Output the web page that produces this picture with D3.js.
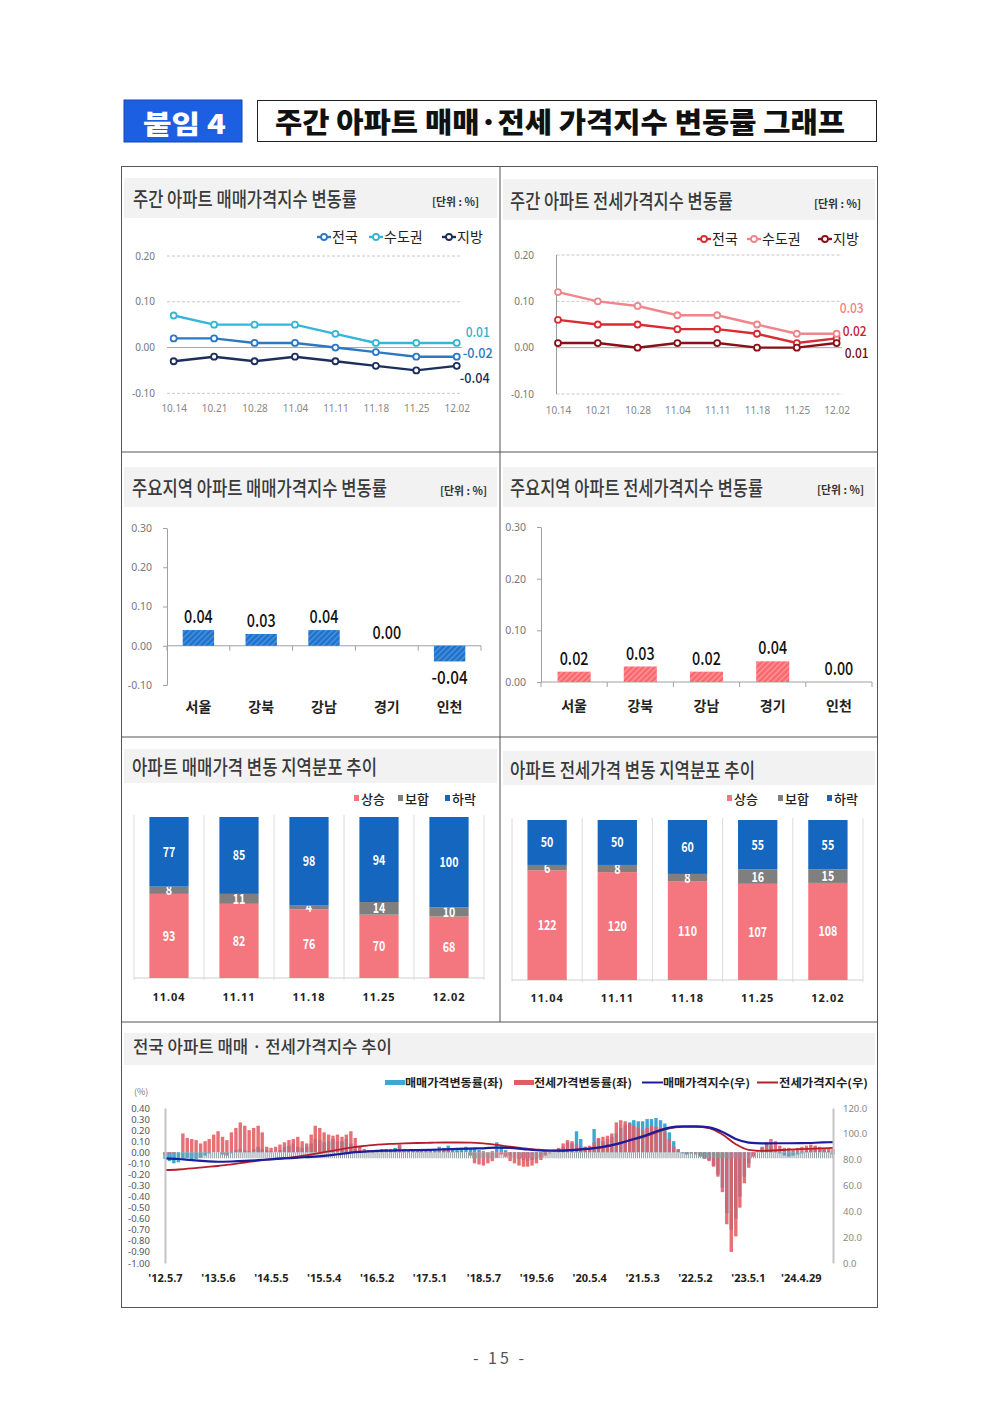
<html>
<script src="https://d3js.org/d3.v7.min.js"></script>
<style>
  body { margin: 0; background: #fff; }
</style>
<body>
<svg id="page" width="1000" height="1413"></svg>
<script>
// ---- weekly line charts ----
const weeks = ["10.14", "10.21", "10.28", "11.04", "11.11", "11.18", "11.25", "12.02"];
const saleNation = [0.02, 0.02, 0.01, 0.01, 0.00, -0.01, -0.02, -0.02];
const saleCapital = [0.07, 0.05, 0.05, 0.05, 0.03, 0.01, 0.01, 0.01];
const saleLocal = [-0.03, -0.02, -0.03, -0.02, -0.03, -0.04, -0.05, -0.04];
const rentNation = [0.06, 0.05, 0.05, 0.04, 0.04, 0.03, 0.01, 0.02];
const rentCapital = [0.12, 0.10, 0.09, 0.07, 0.07, 0.05, 0.03, 0.03];
const rentLocal = [0.01, 0.01, 0.00, 0.01, 0.01, 0.00, 0.00, 0.01];

// ---- main regions ----
const regions = ["서울", "강북", "강남", "경기", "인천"];
const regionSale = [0.04, 0.03, 0.04, 0.00, -0.04];
const regionRent = [0.02, 0.03, 0.02, 0.04, 0.00];

// ---- regional distribution (up / flat / down) ----
const distWeeks = ["11.04", "11.11", "11.18", "11.25", "12.02"];
const saleUp = [93, 82, 76, 70, 68];
const saleFlat = [8, 11, 4, 14, 10];
const saleDown = [77, 85, 98, 94, 100];
const rentUp = [122, 120, 110, 107, 108];
const rentFlat = [6, 8, 8, 16, 15];
const rentDown = [50, 50, 60, 55, 55];

// ---- long trend, monthly from 2012.5 to 2024.12 ----
const saleRate = [
  -0.06, -0.08, -0.10, -0.09, -0.06, -0.05, -0.07, -0.06, -0.05, -0.03, -0.01, 0.00,
  0.00, -0.02, -0.03, -0.01, 0.02, 0.03, 0.02, 0.01, 0.03, 0.05, 0.03, 0.02,
  0.01, 0.00, 0.02, 0.05, 0.06, 0.08, 0.05, 0.04, 0.05, 0.08, 0.12, 0.11,
  0.09, 0.10, 0.12, 0.10, 0.10, 0.12, 0.08, 0.03, 0.01, 0.00, 0.00, 0.01,
  0.02, 0.03, 0.03, 0.03, 0.04, 0.06, 0.03, 0.02, 0.01, 0.01, 0.01, 0.01,
  0.02, 0.03, 0.05, 0.04, 0.06, 0.03, 0.02, 0.04, 0.05, 0.04, 0.03, 0.02,
  0.01, 0.00, 0.01, 0.09, 0.06, 0.02, -0.03, -0.05, -0.06, -0.07, -0.08, -0.07,
  -0.06, -0.04, -0.02, 0.00, 0.01, 0.03, 0.05, 0.09, 0.08, 0.19, 0.12, 0.05,
  0.03, 0.21, 0.12, 0.10, 0.12, 0.14, 0.17, 0.22, 0.25, 0.27, 0.29, 0.28,
  0.28, 0.30, 0.30, 0.31, 0.29, 0.26, 0.18, 0.10, 0.03, -0.01, -0.02, -0.01,
  -0.01, -0.03, -0.05, -0.07, -0.12, -0.20, -0.32, -0.55, -0.70, -0.60, -0.40, -0.22,
  -0.10, -0.03, 0.01, 0.05, 0.08, 0.06, 0.03, -0.01, -0.03, -0.04, -0.03, -0.02,
  -0.01, 0.01, 0.03, 0.05, 0.04, 0.03, 0.01, -0.02
];
const rentRate = [
  -0.02, -0.01, -0.01, 0.00, 0.17, 0.13, 0.12, 0.11, 0.08, 0.10, 0.12, 0.16,
  0.19, 0.14, 0.11, 0.18, 0.22, 0.27, 0.24, 0.20, 0.22, 0.24, 0.18, 0.05,
  0.04, 0.05, 0.07, 0.09, 0.11, 0.12, 0.14, 0.10, 0.08, 0.16, 0.24, 0.22,
  0.18, 0.16, 0.15, 0.16, 0.14, 0.16, 0.19, 0.13, 0.05, 0.03, 0.02, 0.02,
  0.02, 0.02, 0.01, 0.02, 0.03, 0.07, 0.03, 0.02, 0.01, 0.01, 0.01, 0.01,
  0.01, 0.01, 0.02, 0.03, 0.02, 0.01, 0.01, 0.01, 0.00, -0.03, -0.10, -0.11,
  -0.12, -0.10, -0.08, -0.05, -0.02, -0.04, -0.08, -0.10, -0.12, -0.13, -0.13, -0.12,
  -0.10, -0.07, -0.03, -0.01, 0.00, 0.04, 0.08, 0.11, 0.10, 0.07, 0.05, 0.05,
  0.06, 0.09, 0.13, 0.14, 0.15, 0.17, 0.27, 0.29, 0.28, 0.26, 0.24, 0.22,
  0.20, 0.22, 0.24, 0.23, 0.22, 0.18, 0.12, 0.05, 0.02, 0.00, -0.01, -0.01,
  -0.02, -0.04, -0.06, -0.08, -0.13, -0.22, -0.36, -0.65, -0.90, -0.76, -0.50, -0.28,
  -0.14, -0.04, 0.00, 0.04, 0.09, 0.12, 0.10, 0.06, 0.04, 0.04, 0.03, 0.04,
  0.05, 0.06, 0.07, 0.06, 0.05, 0.04, 0.04, 0.03
];
// index values, quarterly from 2012.5 plus the last month
const saleIndex = [81.0, 80.5, 79.6, 78.9, 78.4, 78.6, 79.0, 79.6, 80.3, 80.9, 81.6, 82.2, 83.0,
  84.2, 85.5, 86.2, 86.8, 87.0, 87.3, 87.4, 87.6, 88.0, 88.3, 88.6, 88.8, 89.4, 89.2, 88.2,
  87.3, 86.9, 87.0, 87.6, 88.5, 90.0, 92.0, 95.0, 98.0, 101.8, 104.8, 105.8, 105.8, 105.0,
  101.5, 96.0, 93.2, 92.6, 92.7, 92.7, 92.8, 93.1, 93.5, 93.6];
const rentIndex = [72.0, 72.4, 73.2, 74.2, 75.1, 76.4, 77.8, 79.2, 80.4, 81.3, 82.4, 84.0, 85.8,
  87.6, 89.4, 90.6, 91.6, 92.2, 92.6, 92.9, 93.1, 93.3, 93.3, 93.2, 92.6, 91.4, 90.0, 88.8,
  87.8, 87.2, 87.2, 87.8, 88.3, 89.5, 92.0, 95.0, 97.5, 101.0, 104.3, 105.4, 105.5, 104.5,
  99.5, 92.0, 87.6, 86.8, 87.2, 87.8, 88.2, 88.6, 89.0, 89.1];
const trendLabels = ["'12.5.7", "'13.5.6", "'14.5.5", "'15.5.4", "'16.5.2", "'17.5.1", "'18.5.7",
  "'19.5.6", "'20.5.4", "'21.5.3", "'22.5.2", "'23.5.1", "'24.4.29"];
const leftTicks = [0.4, 0.3, 0.2, 0.1, 0, -0.1, -0.2, -0.3, -0.4, -0.5, -0.6, -0.7, -0.8, -0.9, -1.0];
const rightTicks = [0, 20, 40, 60, 80, 100, 120];

const KR = "'Noto Sans CJK KR', 'Noto Sans', sans-serif";
const svg = d3.select('#page').attr('font-family', KR);
const fmt2 = v => (Math.round(v * 100) / 100).toFixed(2);

// hatch patterns for region bars
const defs = svg.append('defs');
function hatch(id, base, stripe) {
  const p = defs.append('pattern').attr('id', id).attr('patternUnits', 'userSpaceOnUse')
    .attr('width', 4).attr('height', 4).attr('patternTransform', 'rotate(45)');
  p.append('rect').attr('width', 4).attr('height', 4).attr('fill', base);
  p.append('rect').attr('width', 1.3).attr('height', 4).attr('fill', stripe);
}
hatch('hBlue', '#1f72cc', '#4f95dc');
hatch('hRed', '#f9686d', '#ff9a9d');

// header
svg.append('rect').attr('x', 124).attr('y', 100).attr('width', 118).attr('height', 42)
  .attr('fill', '#1d5fe3').attr('stroke', '#1647b5');
svg.append('text').attr('x', 143).attr('y', 134).attr('fill', '#fff').attr('font-size', 26)
  .attr('font-weight', 900).attr('textLength', 83).attr('lengthAdjust', 'spacingAndGlyphs').text('붙임 4');
svg.append('rect').attr('x', 257.5).attr('y', 100.5).attr('width', 619).attr('height', 41)
  .attr('fill', '#fff').attr('stroke', '#222');
svg.append('text').attr('x', 275).attr('y', 133).attr('font-size', 28).attr('font-weight', 900)
  .attr('fill', '#111').attr('textLength', 570).attr('lengthAdjust', 'spacingAndGlyphs')
  .text('주간 아파트 매매·전세 가격지수 변동률 그래프');

// frame
svg.append('rect').attr('x', 121.5).attr('y', 166.5).attr('width', 756).attr('height', 1141)
  .attr('fill', 'none').attr('stroke', '#555');
[[500, 166, 500, 1022], [121, 452, 877, 452], [121, 737, 877, 737], [121, 1022, 877, 1022]]
  .forEach(l => svg.append('line').attr('x1', l[0]).attr('y1', l[1]).attr('x2', l[2]).attr('y2', l[3])
    .attr('stroke', '#555'));

function band(x, y, w, h) {
  svg.append('rect').attr('x', x).attr('y', y).attr('width', w).attr('height', h).attr('fill', '#f2f2f2');
}
function title(x, y, txt, len, size) {
  svg.append('text').attr('x', x).attr('y', y).attr('font-size', size).attr('font-weight', 500)
    .attr('fill', '#3a3a3a').attr('textLength', len).attr('lengthAdjust', 'spacingAndGlyphs').text(txt);
}
function unit(x, y) {
  svg.append('text').attr('x', x).attr('y', y).attr('font-size', 11).attr('font-weight', 700)
    .attr('fill', '#333').attr('textLength', 47).attr('lengthAdjust', 'spacingAndGlyphs').text('[단위 : %]');
}

band(124, 178, 373, 40); title(133, 207, '주간 아파트 매매가격지수 변동률', 224, 20); unit(432, 206);
band(503, 179, 372, 41); title(510, 209, '주간 아파트 전세가격지수 변동률', 223, 20); unit(814, 208);
band(124, 467, 373, 40); title(132, 496, '주요지역 아파트 매매가격지수 변동률', 255, 20); unit(440, 495);
band(503, 467, 372, 40); title(510, 496, '주요지역 아파트 전세가격지수 변동률', 253, 20); unit(817, 494);
band(124, 749, 373, 34); title(132, 775, '아파트 매매가격 변동 지역분포 추이', 245, 20);
band(503, 751, 372, 34); title(510, 778, '아파트 전세가격 변동 지역분포 추이', 245, 20);
band(124, 1033, 751, 32); title(133, 1053, '전국 아파트 매매 · 전세가격지수 추이', 259, 17);

// ---------- line charts ----------
function lineChart(o) {
  const g = svg.append('g');
  const x = d3.scalePoint().domain(weeks).range(o.xr).padding(0.15);
  const y = d3.scaleLinear().domain([-0.1, 0.2]).range(o.yr);
  g.selectAll('.grid').data([-0.1, 0.1, 0.2]).join('line')
    .attr('x1', o.gx[0]).attr('x2', o.gx[1]).attr('y1', d => y(d)).attr('y2', d => y(d))
    .attr('stroke', '#c8c8c8').attr('stroke-dasharray', '3,2');
  g.append('line').attr('x1', o.gx[0]).attr('x2', o.gx[1]).attr('y1', y(0)).attr('y2', y(0))
    .attr('stroke', '#a6a6a6');
  if (o.axisLine) {
    g.append('line').attr('x1', o.gx[0]).attr('x2', o.gx[0]).attr('y1', y(0.2)).attr('y2', y(-0.1))
      .attr('stroke', '#999');
  }
  const ya = g.append('g').attr('transform', `translate(${o.labelX},0)`)
    .call(d3.axisLeft(y).tickValues([-0.1, 0, 0.1, 0.2]).tickFormat(fmt2).tickSize(0).tickPadding(0));
  ya.select('.domain').remove();
  ya.attr('font-family', "'Noto Sans', sans-serif").attr('font-size', 10).attr('color', '#777');
  const xa = g.append('g').attr('transform', `translate(0,${o.xLabelY})`)
    .call(d3.axisBottom(x).tickSize(0).tickPadding(0));
  xa.select('.domain').remove();
  xa.attr('font-family', "'Noto Sans', sans-serif").attr('font-size', 10).attr('color', '#888');

  const line = d3.line().x((d, i) => x(weeks[i])).y(d => y(d));
  o.series.forEach(s => {
    g.append('path').datum(s.values).attr('d', line).attr('fill', 'none')
      .attr('stroke', s.color).attr('stroke-width', 2.4);
    g.selectAll(null).data(s.values).join('circle')
      .attr('cx', (d, i) => x(weeks[i])).attr('cy', d => y(d)).attr('r', 3)
      .attr('fill', '#fff').attr('stroke', s.color).attr('stroke-width', 1.8);
    const last = s.values[s.values.length - 1];
    const txt = fmt2(last);
    g.append('text').attr('x', x(weeks[weeks.length - 1]) + s.dx).attr('y', y(last) + s.dy)
      .attr('font-size', 14).attr('font-weight', 500).attr('fill', s.labelColor)
      .attr('textLength', txt.length * 6).attr('lengthAdjust', 'spacingAndGlyphs').text(txt);
    // legend
    g.append('line').attr('x1', s.lx).attr('x2', s.lx + 14).attr('y1', o.legY).attr('y2', o.legY)
      .attr('stroke', s.color).attr('stroke-width', 2.4);
    g.append('circle').attr('cx', s.lx + 7).attr('cy', o.legY).attr('r', 3)
      .attr('fill', '#fff').attr('stroke', s.color).attr('stroke-width', 1.8);
    g.append('text').attr('x', s.lx + 15).attr('y', o.legY + 5).attr('font-size', 14)
      .attr('fill', '#222').text(s.name);
  });
}

lineChart({
  xr: [167.6, 462.8], yr: [393.3, 256], gx: [167, 462], labelX: 155, xLabelY: 405, legY: 237,
  axisLine: false,
  series: [
    { name: '전국', values: saleNation, color: '#2e78c2', labelColor: '#2e78c2', dx: 6, dy: 1, lx: 317 },
    { name: '수도권', values: saleCapital, color: '#35b6d8', labelColor: '#2fb0d3', dx: 9, dy: -6, lx: 369 },
    { name: '지방', values: saleLocal, color: '#1c2e5c', labelColor: '#1c2e5c', dx: 3, dy: 17, lx: 442 }
  ]
});
lineChart({
  xr: [552, 842.6], yr: [394, 255], gx: [556.5, 842], labelX: 534, xLabelY: 407, legY: 239,
  axisLine: true,
  series: [
    { name: '전국', values: rentNation, color: '#d92b34', labelColor: '#c8202a', dx: 6, dy: -2, lx: 697 },
    { name: '수도권', values: rentCapital, color: '#f0868c', labelColor: '#ef7f86', dx: 3, dy: -21, lx: 747 },
    { name: '지방', values: rentLocal, color: '#8a0f17', labelColor: '#7a0d14', dx: 8, dy: 15, lx: 818 }
  ]
});

// ---------- region bar charts ----------
function regionChart(o) {
  const g = svg.append('g');
  const x = d3.scaleBand().domain(regions).range(o.xr).paddingInner(0.5).paddingOuter(0.25);
  const y = d3.scaleLinear().domain(o.dom).range(o.yr);
  const ya = g.append('g').attr('transform', `translate(${o.xr[0]},0)`)
    .call(d3.axisLeft(y).tickValues(o.ticks).tickFormat(fmt2).tickSize(4).tickPadding(11).tickSizeOuter(0));
  ya.attr('font-family', "'Noto Sans', sans-serif").attr('font-size', 10.5).attr('color', '#777');
  ya.select('.domain').attr('stroke', '#a0a0a0');
  ya.selectAll('.tick line').attr('stroke', '#a0a0a0');
  g.append('line').attr('x1', o.xr[0]).attr('x2', o.xr[1]).attr('y1', y(0)).attr('y2', y(0))
    .attr('stroke', '#a0a0a0');
  g.selectAll('.sep').data(d3.range(regions.length + 1)).join('line')
    .attr('x1', i => o.xr[0] + i * x.step()).attr('x2', i => o.xr[0] + i * x.step())
    .attr('y1', y(0)).attr('y2', y(0) + 5).attr('stroke', '#a0a0a0');
  g.selectAll('.bar').data(o.values).join('rect')
    .attr('x', (d, i) => x(regions[i])).attr('width', x.bandwidth())
    .attr('y', d => y(Math.max(0, d))).attr('height', d => Math.abs(y(d) - y(0)))
    .attr('fill', o.fill);
  g.selectAll('.val').data(o.values).join('text')
    .attr('x', (d, i) => x(regions[i]) + x.bandwidth() / 2)
    .attr('y', d => d < 0 ? y(d) + 23 : y(d) - 7)
    .attr('text-anchor', 'middle').attr('font-size', 18).attr('font-weight', 500).attr('fill', '#111')
    .attr('textLength', d => fmt2(d).length * 7.2).attr('lengthAdjust', 'spacingAndGlyphs')
    .text(d => fmt2(d));
  g.selectAll('.cat').data(regions).join('text')
    .attr('x', d => x(d) + x.bandwidth() / 2).attr('y', o.catY)
    .attr('text-anchor', 'middle').attr('font-size', 14).attr('font-weight', 700).attr('fill', '#222')
    .text(d => d);
}
regionChart({ xr: [167, 481], yr: [685, 528], dom: [-0.1, 0.3], ticks: [-0.1, 0, 0.1, 0.2, 0.3],
  values: regionSale, fill: 'url(#hBlue)', catY: 712 });
regionChart({ xr: [541, 872], yr: [682, 527], dom: [0, 0.3], ticks: [0, 0.1, 0.2, 0.3],
  values: regionRent, fill: 'url(#hRed)', catY: 711 });

// ---------- stacked distribution ----------
const stackColors = { up: '#f4777f', flat: '#7f7f7f', down: '#1466bf' };
function distChart(o) {
  const g = svg.append('g');
  const rows = distWeeks.map((w, i) => ({ week: w, up: o.up[i], flat: o.flat[i], down: o.down[i] }));
  const series = d3.stack().keys(['up', 'flat', 'down'])(rows);
  const x = d3.scaleBand().domain(distWeeks).range(o.xr).paddingInner(0.44).paddingOuter(0.22);
  const y = d3.scaleLinear().domain([0, d3.max(rows, r => r.up + r.flat + r.down)]).range(o.yr);
  g.selectAll('.sep').data(d3.range(distWeeks.length + 1)).join('line')
    .attr('x1', i => o.xr[0] + i * x.step()).attr('x2', i => o.xr[0] + i * x.step())
    .attr('y1', o.yr[1] - 2).attr('y2', o.yr[0] + 2).attr('stroke', '#dcdcdc');
  g.append('line').attr('x1', o.xr[0]).attr('x2', o.xr[1]).attr('y1', o.yr[0]).attr('y2', o.yr[0])
    .attr('stroke', '#cfcfcf');
  series.forEach(s => {
    g.selectAll(null).data(s).join('rect')
      .attr('x', d => x(d.data.week)).attr('width', x.bandwidth())
      .attr('y', d => y(d[1])).attr('height', d => y(d[0]) - y(d[1]))
      .attr('fill', stackColors[s.key]);
    g.selectAll(null).data(s).join('text')
      .attr('x', d => x(d.data.week) + x.bandwidth() / 2).attr('y', d => (y(d[0]) + y(d[1])) / 2 + 5)
      .attr('text-anchor', 'middle').attr('font-size', 14).attr('font-weight', 700).attr('fill', '#fff')
      .attr('textLength', d => String(d.data[s.key]).length * 6.3).attr('lengthAdjust', 'spacingAndGlyphs')
      .text(d => d.data[s.key]);
  });
  const xa = g.append('g').attr('transform', `translate(0,${o.labelY})`)
    .call(d3.axisBottom(x).tickSize(0).tickPadding(0));
  xa.select('.domain').remove();
  xa.attr('font-family', "'Noto Sans', sans-serif").attr('font-size', 11).attr('font-weight', 700)
    .attr('color', '#222').attr('letter-spacing', 1);
  const names = { up: '상승', flat: '보합', down: '하락' };
  o.legend.forEach(l => {
    g.append('rect').attr('x', l.x).attr('y', 795).attr('width', 5).attr('height', 6)
      .attr('fill', stackColors[l.key]);
    g.append('text').attr('x', l.x + 7).attr('y', 804).attr('font-size', 13).attr('font-weight', 500)
      .attr('fill', '#222').text(names[l.key]);
  });
}
distChart({ xr: [134, 484], yr: [978, 817], up: saleUp, flat: saleFlat, down: saleDown, labelY: 993,
  legend: [{ key: 'up', x: 354 }, { key: 'flat', x: 398 }, { key: 'down', x: 445 }] });
distChart({ xr: [512, 863], yr: [980, 820], up: rentUp, flat: rentFlat, down: rentDown, labelY: 994,
  legend: [{ key: 'up', x: 727 }, { key: 'flat', x: 778 }, { key: 'down', x: 827 }] });

// ---------- long-term trend ----------
(function () {
  const g = svg.append('g');
  const parse = s => { const p = s.slice(1).split('.').map(Number); return new Date(2000 + p[0], p[1] - 1, p[2]); };
  const tickDates = trendLabels.map(parse);
  const t0 = tickDates[0], t1 = new Date(2024, 11, 7);
  const x = d3.scaleTime().domain([t0, t1]).range([165, 833]);
  const yL = d3.scaleLinear().domain([-1, 0.4]).range([1263, 1108]);
  const yR = d3.scaleLinear().domain([0, 120]).range([1263, 1108]);
  const monthDates = saleRate.map((d, i) => d3.timeMonth.offset(t0, i));
  const idxMonths = d3.range(0, 151, 3).concat([151]);
  const idxDates = idxMonths.map(m => d3.timeMonth.offset(t0, m));

  const bars = (vals, color, op) => g.selectAll(null).data(vals).join('rect')
    .attr('x', (d, i) => x(monthDates[i]) - 1.7).attr('width', 3.4)
    .attr('y', d => yL(Math.max(0, d))).attr('height', d => Math.abs(yL(d) - yL(0)))
    .attr('fill', color).attr('opacity', op);
  bars(saleRate, '#3ea8d2', 1);
  bars(rentRate, '#e45c63', 0.88);

  const ticks = g.append('g').attr('transform', `translate(0,${yL(0)})`)
    .call(d3.axisBottom(x).tickValues(d3.timeMonday.every(2).range(t0, t1)).tickSize(6).tickFormat(''));
  ticks.select('.domain').remove();
  ticks.selectAll('.tick line').attr('stroke', '#8f9da3');

  const line = vals => d3.line().x((d, i) => x(idxDates[i])).y(d => yR(d)).curve(d3.curveMonotoneX)(vals);
  g.append('path').attr('d', line(rentIndex)).attr('fill', 'none').attr('stroke', '#b3202a').attr('stroke-width', 1.8);
  g.append('path').attr('d', line(saleIndex)).attr('fill', 'none').attr('stroke', '#1c1c9e').attr('stroke-width', 2.2);

  const la = g.append('g').attr('transform', 'translate(165,0)')
    .call(d3.axisLeft(yL).tickValues(leftTicks).tickFormat(fmt2).tickSize(0).tickPadding(15).tickSizeOuter(0));
  la.select('.domain').attr('stroke', '#c4c4c4').attr('stroke-width', 2);
  la.attr('font-family', "'Noto Sans', sans-serif").attr('font-size', 9.5).attr('color', '#555');
  const ra = g.append('g').attr('transform', 'translate(833,0)')
    .call(d3.axisRight(yR).tickValues(rightTicks).tickFormat(d3.format('.1f')).tickSize(0).tickPadding(10).tickSizeOuter(0));
  ra.select('.domain').attr('stroke', '#c4c4c4').attr('stroke-width', 2);
  ra.attr('font-family', "'Noto Sans', sans-serif").attr('font-size', 9.5).attr('color', '#888');
  const xa = g.append('g').attr('transform', 'translate(0,1274)')
    .call(d3.axisBottom(x).tickValues(tickDates).tickFormat((d, i) => trendLabels[i]).tickSize(0).tickPadding(0));
  xa.select('.domain').remove();
  xa.attr('font-family', "'Noto Sans', sans-serif").attr('font-size', 11).attr('font-weight', 700).attr('color', '#222');

  g.append('text').attr('x', 134).attr('y', 1095).attr('font-size', 9).attr('fill', '#777').text('(%)');

  // legend
  const leg = [
    { type: 'rect', color: '#3ea8d2', x: 385, tx: 405, len: 98, name: '매매가격변동률(좌)' },
    { type: 'rect', color: '#e45c63', x: 514, tx: 534, len: 98, name: '전세가격변동률(좌)' },
    { type: 'line', color: '#1c1c9e', x: 642, tx: 663, len: 87, name: '매매가격지수(우)' },
    { type: 'line', color: '#b3202a', x: 757, tx: 779, len: 89, name: '전세가격지수(우)' }
  ];
  leg.forEach(l => {
    if (l.type === 'rect') g.append('rect').attr('x', l.x).attr('y', 1080).attr('width', 20).attr('height', 5).attr('fill', l.color);
    else g.append('line').attr('x1', l.x).attr('x2', l.x + 21).attr('y1', 1082.5).attr('y2', 1082.5).attr('stroke', l.color).attr('stroke-width', 2);
    g.append('text').attr('x', l.tx).attr('y', 1087).attr('font-size', 11).attr('font-weight', 700)
      .attr('fill', '#222').attr('textLength', l.len).attr('lengthAdjust', 'spacingAndGlyphs').text(l.name);
  });
})();

// page number
svg.append('text').attr('x', 500).attr('y', 1364).attr('text-anchor', 'middle').attr('font-size', 16)
  .attr('fill', '#555').attr('letter-spacing', 3).text('- 15 -');
</script>
</body>
</html>
